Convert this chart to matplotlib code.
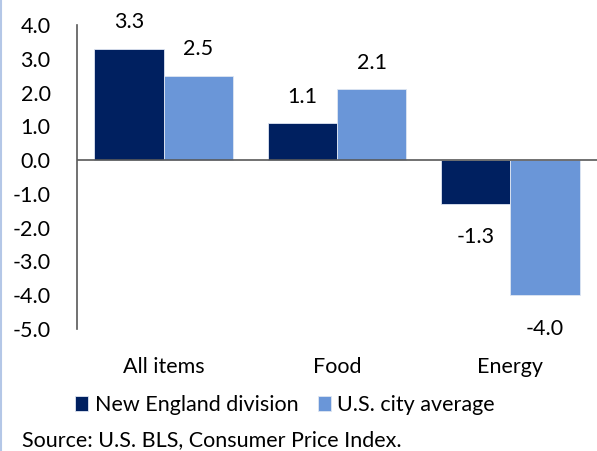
import matplotlib
matplotlib.use("Agg")
from matplotlib import pyplot as plt
from matplotlib.lines import Line2D
import numpy as np

categories = ["All items", "Food", "Energy"]
new_england = [3.3, 1.1, -1.3]
us_average = [2.5, 2.1, -4.0]
series_names = ["New England division", "U.S. city average"]
source_note = "Source: U.S. BLS, Consumer Price Index."

dark = "#002060"
light = "#6A96D8"

plt.rcParams["font.family"] = ["Lato", "DejaVu Sans"]
fs = 15.5

fig = plt.figure(figsize=(5.97, 4.51), dpi=100)
ax = fig.add_axes([77 / 597, 1 - 329 / 451, 1 - 77 / 597, (329 - 25) / 451])

x = np.arange(len(categories))
w = 0.4
b1 = ax.bar(x - w / 2, new_england, w, color=dark, edgecolor="#dfe6f2", linewidth=0.6)
b2 = ax.bar(x + w / 2, us_average, w, color=light, edgecolor="#dfe6f2", linewidth=0.6)

for bars, vals in ((b1, new_england), (b2, us_average)):
    for r, v in zip(bars, vals):
        off = 19 if v >= 0 else -24
        ax.annotate(f"{v:.1f}", (r.get_x() + r.get_width() / 2, v),
                    xytext=(0, off), textcoords="offset points",
                    ha="center", va="center", fontsize=fs)

ax.axhline(0, color="#595959", linewidth=1.2)
ax.set_xlim(-0.5, 2.5)
ax.set_ylim(-5, 4)
ax.set_yticks(np.arange(-5, 4.1, 1))
ax.set_yticklabels([f"{t:.1f}" for t in np.arange(-5, 4.1, 1)], fontsize=fs)
ax.set_xticks(x)
ax.set_xticklabels(categories, fontsize=fs)
ax.tick_params(axis="y", length=0, pad=19)
ax.tick_params(axis="x", length=0, pad=20)
for s in ("top", "right", "bottom"):
    ax.spines[s].set_visible(False)
ax.spines["left"].set_color("#595959")
ax.spines["left"].set_linewidth(1.2)

fig.legend([b1, b2], series_names, loc="center", ncol=2,
           bbox_to_anchor=(285 / 597, 1 - 405 / 451), frameon=False,
           fontsize=fs, handlelength=0.6, handleheight=0.7,
           handletextpad=0.3, columnspacing=0.9, borderaxespad=0)

fig.text(22 / 597, 1 - 440 / 451, source_note, fontsize=fs, ha="left", va="center")

# thin blue rule on the left edge
fig.add_artist(Line2D([0.0015, 0.0015], [0, 1], transform=fig.transFigure,
                      color="#B4C7E7", linewidth=1.5))

fig.savefig("out.png", dpi=100)
plt.close()
